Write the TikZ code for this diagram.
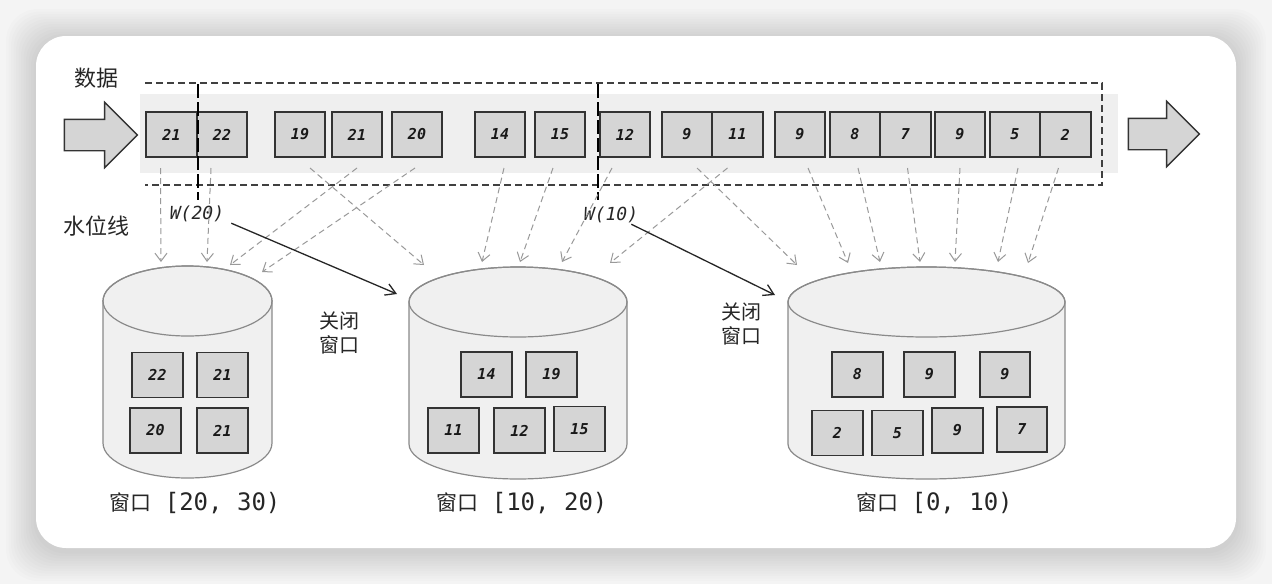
\documentclass[tikz,border=0pt]{standalone}
\usepackage{fontspec}
\setmonofont{DejaVu Sans Mono}
\newfontfamily\cjk{Noto Sans CJK SC}
\usetikzlibrary{positioning, shapes.arrows, arrows.meta}
\definecolor{bggray}{HTML}{F4F4F4}
\definecolor{bandgray}{HTML}{EFEFEF}
\definecolor{boxgray}{HTML}{D5D5D5}
\definecolor{tonggray}{HTML}{F0F0F0}
\definecolor{tongline}{HTML}{8A8A8A}

\tikzset{
  pics/tong/.style={code={
    \path[fill=tonggray, draw=tongline, line width=1.2pt] (-#1,0) -- (-#1,142)
      arc[start angle=180, end angle=360, x radius=#1pt, y radius=35pt]
      -- (#1,0) arc[start angle=0, end angle=180, x radius=#1pt, y radius=35pt] -- cycle;
    \draw[tongline, line width=1.2pt] (0,0) ellipse[x radius=#1pt, y radius=35pt];
  }}
}

\begin{document}
\begin{tikzpicture}[x=1pt, y=-1pt]
    % 样式定义
    \tikzstyle{rec} = [rectangle, draw=black!80, fill=boxgray, line width=1.6pt, minimum width=50.5pt, minimum height=45pt, inner sep=0pt, outer sep=0pt, text=black!90, font=\ttfamily\bfseries\itshape\fontsize{15}{15}\selectfont]
    \tikzstyle{flow} = [draw=black!40, line width=1pt, dash pattern=on 6pt off 4pt, -{Straight Barb[length=8pt, width=12pt]}]
    \tikzstyle{shut} = [draw=black!85, line width=1.3pt, -{Straight Barb[length=10pt, width=12pt]}]
    \tikzstyle{wmline} = [draw=black, line width=2.6pt, dash pattern=on 14pt off 4pt]
    \tikzstyle{bigarrow} = [single arrow, draw=black!80, fill=boxgray, line width=1.4pt, single arrow head extend=17pt, inner xsep=0pt, inner ysep=15pt]
    \tikzstyle{cn} = [text=black!85, font=\cjk\fontsize{22}{26}\selectfont]
    \tikzstyle{gb} = [text=black!85, align=left, inner sep=0pt, font=\cjk\fontsize{20}{24}\selectfont]
    \tikzstyle{wlab} = [text=black!85, inner sep=1pt, font=\ttfamily\itshape\fontsize{18}{18}\selectfont]
    \tikzstyle{winlab} = [text=black!85, font=\fontsize{24}{24}\selectfont]

    % 背景
    \useasboundingbox (0,0) rectangle (1272,584);
    \fill[bggray] (0,0) rectangle (1272,584);
    \foreach \i in {1,...,12}
      \fill[black, opacity=0.01, rounded corners=32pt] (36-\i*2.5, 39-\i*2.5) rectangle (1236+\i*2.5, 551+\i*2.5);
    \fill[white, rounded corners=30pt] (36,36) rectangle (1236,548);

    % 数据流
    \fill[bandgray] (140,94) rectangle (1118,173);
    \draw[black!75, line width=1.5pt, dash pattern=on 7pt off 4pt] (145,83) -| (1102,185) -- (145,185);
    \node[cn] (data) at (96,78) {数据};
    \node[cn] (wm) at (96,226) {水位线};
    \node[bigarrow, minimum height=73pt] (inarr) at (93,135) {};
    \node[bigarrow, minimum height=71pt] (outarr) at (1156,134) {};

    \node[rec] (s1) at (171.5,134.5) {21};
    \node[rec, right=0pt of s1] (s2) {22};
    \node[rec, right=27.5pt of s2] (s3) {19};
    \node[rec, right=6.5pt of s3] (s4) {21};
    \node[rec, right=9.5pt of s4] (s5) {20};
    \node[rec, right=32.5pt of s5] (s6) {14};
    \node[rec, right=9.5pt of s6] (s7) {15};
    \node[rec, right=14.5pt of s7] (s8) {12};
    \node[rec, right=11.5pt of s8] (s9) {9};
    \node[rec, right=0pt of s9] (s10) {11};
    \node[rec, right=12pt of s10] (s11) {9};
    \node[rec, right=4.5pt of s11] (s12) {8};
    \node[rec, right=0pt of s12] (s13) {7};
    \node[rec, right=4pt of s13] (s14) {9};
    \node[rec, right=4.5pt of s14] (s15) {5};
    \node[rec, right=0pt of s15] (s16) {2};

    % 水位线
    \coordinate (wm20a) at (198,84);
    \coordinate (wm20b) at (198,200);
    \coordinate (wm10a) at (598,84);
    \coordinate (wm10b) at (598,200);
    \draw[wmline] (wm20a) -- (wm20b);
    \draw[wmline] (wm10a) -- (wm10b);
    \node[wlab] (w20) at (197,214) {W(20)};
    \node[wlab] (w10) at (611,215) {W(10)};

    % 窗口
    \pic at (187.5,301) {tong=84.5};
    \pic at (518,302) {tong=109};
    \pic at (926.5,302) {tong=138.5};

    \node[rec] (l1) at (157.5,375) {22};
    \node[rec] (l2) at (222.5,375) {21};
    \node[rec] (l3) at (155.5,430.5) {20};
    \node[rec] (l4) at (222.5,430.5) {21};

    \node[rec] (m1) at (486.5,374.5) {14};
    \node[rec] (m2) at (551.5,374.5) {19};
    \node[rec] (m3) at (453.5,430.5) {11};
    \node[rec] (m4) at (519.5,430.5) {12};
    \node[rec] (m5) at (579.5,429) {15};

    \node[rec] (r1) at (857.5,374.5) {8};
    \node[rec] (r2) at (929.5,374.5) {9};
    \node[rec] (r3) at (1005,374.5) {9};
    \node[rec] (r4) at (837.5,433) {2};
    \node[rec] (r5) at (897.5,433) {5};
    \node[rec] (r6) at (957.5,430.5) {9};
    \node[rec] (r7) at (1022,429.5) {7};

    \node[winlab] (win1) at (195,503) {{\cjk\fontsize{21}{21}\selectfont 窗口}\hspace{6pt} \texttt{[20, 30)}};
    \node[winlab] (win2) at (522,503) {{\cjk\fontsize{21}{21}\selectfont 窗口}\hspace{6pt} \texttt{[10, 20)}};
    \node[winlab] (win3) at (934.5,503) {{\cjk\fontsize{21}{21}\selectfont 窗口}\hspace{6pt} \texttt{[0, 10)}};

    \node[gb] (gb20) at (339,333) {关闭\\窗口};
    \node[gb] (gb10) at (741,324) {关闭\\窗口};

    % 箭头
    \foreach \n/\x/\y in {a1/161/262, a2/207/262, a3/230/265, a4/262/272,
                          b1/424/265, b2/482/262, b3/520/262, b4/562/262, b5/610/263,
                          c1/797/265, c2/848/263, c3/880/262, c4/920/262, c5/955/262, c6/998/262, c7/1028/263}
      \coordinate (\n) at (\x,\y);
    \foreach \s/\dx/\t in {s1/-11/a1, s2/-11/a2, s4/0/a3, s5/-2/a4,
                           s3/10/b1, s6/4/b2, s7/-7/b3, s8/-13/b4, s10/-10/b5,
                           s9/10/c1, s11/8/c2, s12/3/c3, s13/2/c4, s14/0/c5, s15/3/c6, s16/-7/c7}
      \draw[flow] ([xshift=\dx pt, yshift=-11pt]\s.south) -- (\t);

    \coordinate (c20) at (397,294);
    \coordinate (c10) at (775,295);
    \draw[shut] ([xshift=6pt]w20.south east) -- (c20);
    \draw[shut] ([xshift=-8pt]w10.south east) -- (c10);
\end{tikzpicture}
\end{document}
